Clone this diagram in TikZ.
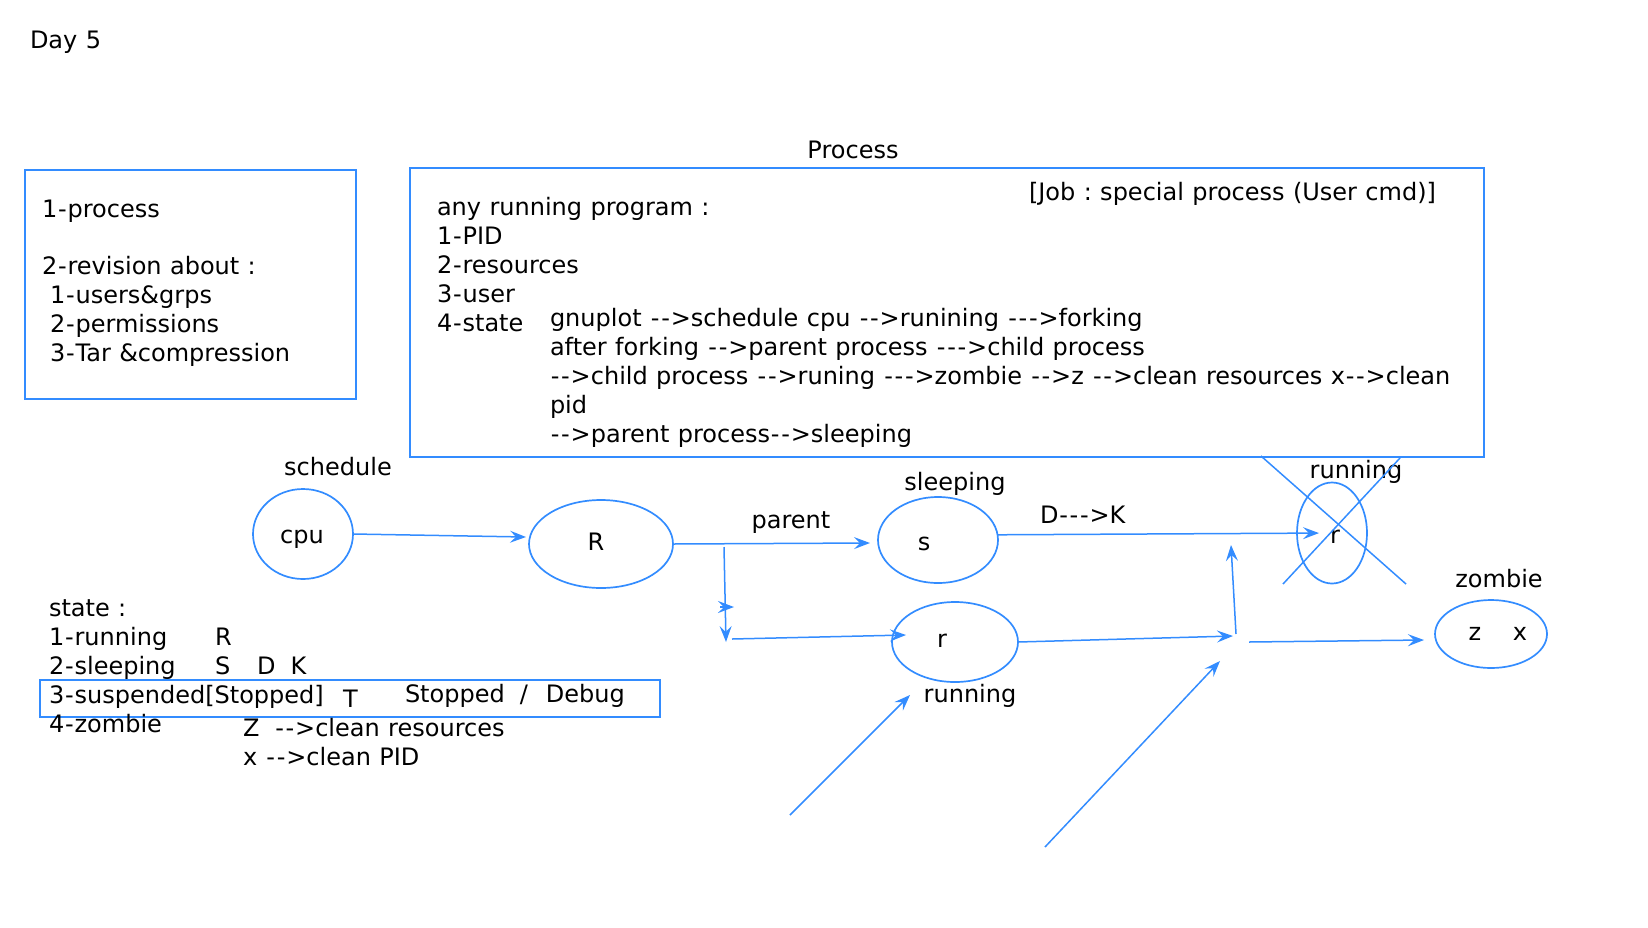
\documentclass[tikz,border=0pt]{standalone}
\usepackage{fontspec}
\setmainfont{DejaVu Sans}[Ligatures=TeXOff, WordSpace=1.1]
\usetikzlibrary{arrows.meta,shapes.geometric}
\definecolor{bl}{RGB}{51,140,255}
\newcommand{\hy}{{\kern.85pt-\kern.85pt}}
\newcommand{\arw}{\hy\hy>}
\newcommand{\arww}{\hy\hy\hy>}
\frenchspacing
\begin{document}
\begin{tikzpicture}[x=1pt,y=-1pt,
  font=\fontsize{24}{29}\selectfont,
  txt/.style={anchor=base west, inner sep=0pt, outer sep=0pt},
  ctxt/.style={anchor=base, inner sep=0pt, outer sep=0pt},
  st/.style={ellipse, draw=bl, line width=1.7pt, inner sep=0pt, outer sep=0pt},
  boxx/.style={rectangle, draw=bl, line width=1.7pt, inner sep=0pt, outer sep=0pt},
  arr/.style={draw=bl, line width=1.5pt, -{Stealth[length=16pt,width=12pt,inset=6pt]}},
  ln/.style={draw=bl, line width=1.5pt}]
\useasboundingbox (0,0) rectangle (1648,927);

% title
\node[txt] (day) at (30,48) {Day 5};

% left box
\node[boxx, minimum width=331pt, minimum height=229pt] (lbox) at (190.5,284.5) {};
\node[txt] (l1) at (42,217) {1\hy process};
\node[txt] (l2) at (42,274) {2\hy revision about :};
\node[txt] (l3) at (50,303) {1\hy users\&grps};
\node[txt] (l4) at (50,332) {2\hy permissions};
\node[txt] (l5) at (50,361) {3\hy Tar \&compression};

% process box
\node[ctxt] (ptitle) at (853,158) {Process};
\node[boxx, minimum width=1074pt, minimum height=289pt] (pbox) at (947,312.5) {};
\node[txt] (job) at (1029,200) {[Job : special process (User cmd)]};
\node[txt] (p1) at (437,215) {any running program :};
\node[txt] (p2) at (437,244) {1\hy PID};
\node[txt] (p3) at (437,273) {2\hy resources};
\node[txt] (p4) at (437,302) {3\hy user};
\node[txt] (p5) at (437,331) {4\hy state};
\node[txt] (g1) at (550,326) {gnuplot \arw schedule cpu \arw runining \arww forking};
\node[txt] (g2) at (550,355) {after forking \arw parent process \arww child process};
\node[txt] (g3) at (550,384) {\arw child process \arw runing \arww zombie \arw z \arw clean resources x\arw clean};
\node[txt] (g4) at (550,413) {pid};
\node[txt] (g5) at (550,442) {\arw parent process\arw sleeping};

% states
\node[st, minimum width=100pt, minimum height=90pt] (cpu) at (303,534) {};
\node[ctxt] (cput) at (302,543) {cpu};
\node[ctxt] (sched) at (338,475) {schedule};

\node[st, minimum width=144pt, minimum height=88pt] (R) at (601,544) {};
\node[ctxt] (Rt) at (596,550) {R};

\node[st, minimum width=120pt, minimum height=86pt] (s) at (938,540) {};
\node[ctxt] (st) at (924,550) {s};
\node[ctxt] (sleepl) at (955,490) {sleeping};
\node[ctxt] (parl) at (791,528) {parent};

\node[st, minimum width=126pt, minimum height=80pt] (r) at (955,642) {};
\node[ctxt] (rt) at (942,647) {r};
\node[ctxt] (runl) at (970,702) {running};

\node[st, minimum width=70pt, minimum height=101pt] (rx) at (1332,533) {};
\node[ctxt] (rxt) at (1335,543) {r};
\node[ctxt] (runl2) at (1356,478) {running};

\node[st, minimum width=112pt, minimum height=68pt] (z) at (1491,634) {};
\node[ctxt] (zt) at (1475,640) {z};
\node[ctxt] (xt) at (1520,640) {x};
\node[ctxt] (zombl) at (1499,587) {zombie};

\node[txt] (dk) at (1040,523) {D\arww K};

% coordinates
\coordinate (b1) at (724,547);
\coordinate (b2) at (726,642);
\coordinate (m1) at (720,607);
\coordinate (m2) at (734,607);
\coordinate (c1) at (732,639);
\coordinate (j1) at (1233,636);
\coordinate (j2) at (1236,634);
\coordinate (j3) at (1231,545);
\coordinate (j4) at (1249,642);
\coordinate (d1) at (790,815);
\coordinate (d2) at (910,695);
\coordinate (d3) at (1045,847);
\coordinate (d4) at (1220,661);
\coordinate (x1) at (1261,456);
\coordinate (x2) at (1406,584);
\coordinate (x3) at (1400,458);
\coordinate (x4) at (1283,584);

% connectors
\draw[arr] (cpu.east) -- ([yshift=7pt,xshift=-3pt]R.west);
\draw[arr] (R.east) -- ([xshift=-8pt,yshift=-3pt]s.west);
\draw[arr] (b1) -- (b2);
\draw[arr] (m1) -- (m2);
\draw[arr] (c1) -- ([xshift=14pt,yshift=7pt]r.west);
\draw[arr, shorten >=13pt] (s.5) -- (rx.center);
\draw[arr] (r.east) -- (j1);
\draw[arr] (j2) -- (j3);
\draw[arr] (j4) -- ([xshift=-11pt,yshift=-6pt]z.west);
\draw[arr] (d1) -- (d2);
\draw[arr] (d3) -- (d4);
\draw[ln] (x1) -- (x2);
\draw[ln] (x3) -- (x4);

% state list
\node[txt] (s0) at (49,616) {state :};
\node[txt] (s1) at (49,645) {1\hy running};
\node[txt] (s1b) at (215,645) {R};
\node[txt] (s2) at (49,674) {2\hy sleeping};
\node[txt] (s2b) at (215,674) {S\hspace{27pt}D\hspace{15pt}K};
\node[boxx, minimum width=620pt, minimum height=37pt] (sbox) at (350,698.5) {};
\node[txt] (s3) at (49,703) {3\hy suspended[Stopped]};
\node[txt] (s3b) at (343,707) {T};
\node[txt] (s3c) at (405,702) {Stopped\hspace{15pt}/\hspace{18pt}Debug};
\node[txt] (s4) at (49,732) {4\hy zombie};
\node[txt] (s4b) at (243,736) {Z\hspace{15pt}\arw clean resources};
\node[txt] (s4c) at (243,765) {x \arw clean PID};
\end{tikzpicture}
\end{document}
